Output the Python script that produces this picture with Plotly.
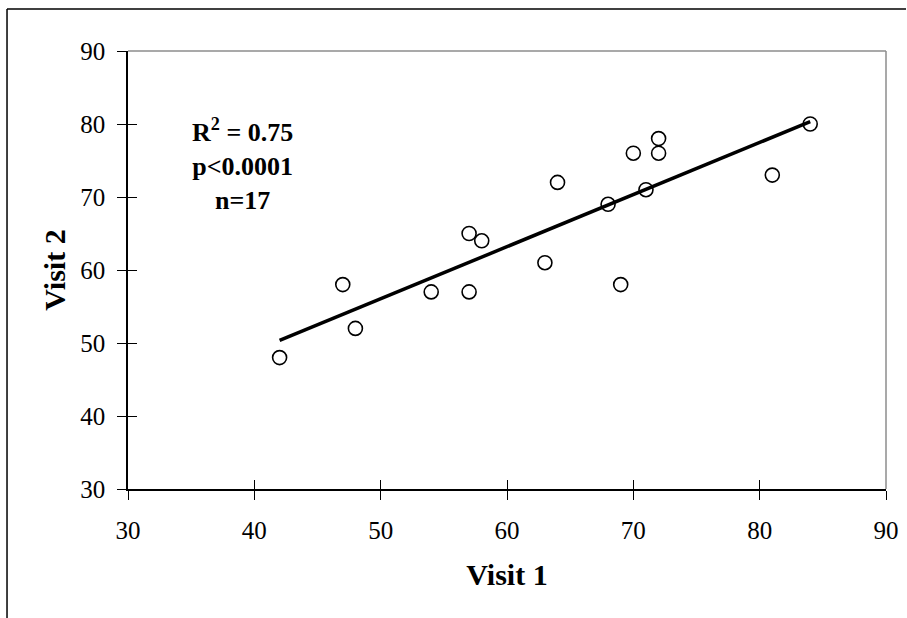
import numpy as np
import plotly.graph_objects as go

# Paired measurements, one point per subject
visit1 = [42, 47, 48, 54, 57, 57, 58, 63, 64, 68, 69, 70, 71, 72, 72, 81, 84]
visit2 = [48, 58, 52, 57, 65, 57, 64, 61, 72, 69, 58, 76, 71, 78, 76, 73, 80]
tick_vals = [30, 40, 50, 60, 70, 80, 90]
stats_lines = ["R<sup>2</sup> = 0.75", "p<0.0001", "n=17"]

# Least-squares trend line across the observed range
slope, intercept = np.polyfit(visit1, visit2, 1)
fit_x = [min(visit1), max(visit1)]
fit_y = [slope * v + intercept for v in fit_x]

FONT = "Liberation Serif, Times New Roman, serif"

fig = go.Figure()
fig.add_trace(go.Scatter(x=fit_x, y=fit_y, mode="lines",
                         line=dict(color="black", width=3.5),
                         showlegend=False, hoverinfo="skip"))
fig.add_trace(go.Scatter(x=visit1, y=visit2, mode="markers",
                         marker=dict(symbol="circle-open", size=14,
                                     color="black", line=dict(width=1.6)),
                         showlegend=False))

axis_common = dict(range=[30, 90], tickvals=tick_vals, showgrid=False,
                   zeroline=False, showline=True, linecolor="black",
                   linewidth=1.5, ticks="outside", ticklen=9, tickwidth=1,
                   tickcolor="black", automargin=False,
                   tickfont=dict(family=FONT, size=25, color="black"))

fig.update_layout(
    width=907, height=618,
    margin=dict(l=128, r=21, t=51, b=129),
    paper_bgcolor="white", plot_bgcolor="white",
    xaxis=dict(**axis_common, ticklabelstandoff=9,
               title=dict(text="<b>Visit 1</b>", standoff=21,
                          font=dict(family=FONT, size=30, color="black"))),
    yaxis=dict(**axis_common, ticklabelstandoff=7,
               title=dict(text="<b>Visit 2</b>", standoff=6,
                          font=dict(family=FONT, size=30, color="black"))),
    # overlay axes supply the inner half of each tick mark
    xaxis2=dict(range=[30, 90], tickvals=tick_vals, overlaying="x",
                showticklabels=False, ticks="inside", ticklen=9, tickwidth=1,
                tickcolor="black", showgrid=False, zeroline=False,
                showline=False, automargin=False),
    yaxis2=dict(range=[30, 90], tickvals=tick_vals, overlaying="y",
                showticklabels=False, ticks="inside", ticklen=9, tickwidth=1,
                tickcolor="black", showgrid=False, zeroline=False,
                showline=False, automargin=False),
)
fig.add_trace(go.Scatter(x=[None], y=[None], xaxis="x2", yaxis="y2",
                         showlegend=False))

# gray top/right edges of the plotting area
fig.add_shape(type="line", xref="paper", yref="paper", x0=0, x1=1, y0=1, y1=1,
              line=dict(color="#8c8c8c", width=1.5))
fig.add_shape(type="line", xref="paper", yref="paper", x0=1, x1=1, y0=0, y1=1,
              line=dict(color="#8c8c8c", width=1.5))

# outer chart frame (top and left edges)
fig.add_shape(type="line", xref="paper", yref="paper",
              x0=-0.1596, x1=1.0264, y0=1.0959, y1=1.0959,
              line=dict(color="black", width=1.5))
fig.add_shape(type="line", xref="paper", yref="paper",
              x0=-0.1596, x1=-0.1596, y0=1.0959, y1=-0.31,
              line=dict(color="black", width=1.5))

fig.add_annotation(x=0.1506, y=0.740, xref="paper", yref="paper",
                   xanchor="center", yanchor="middle",
                   text="<br>".join(f"<b>{s}</b>" for s in stats_lines),
                   showarrow=False, align="center",
                   font=dict(family=FONT, size=26, color="black"))

fig.write_html("out.html")
